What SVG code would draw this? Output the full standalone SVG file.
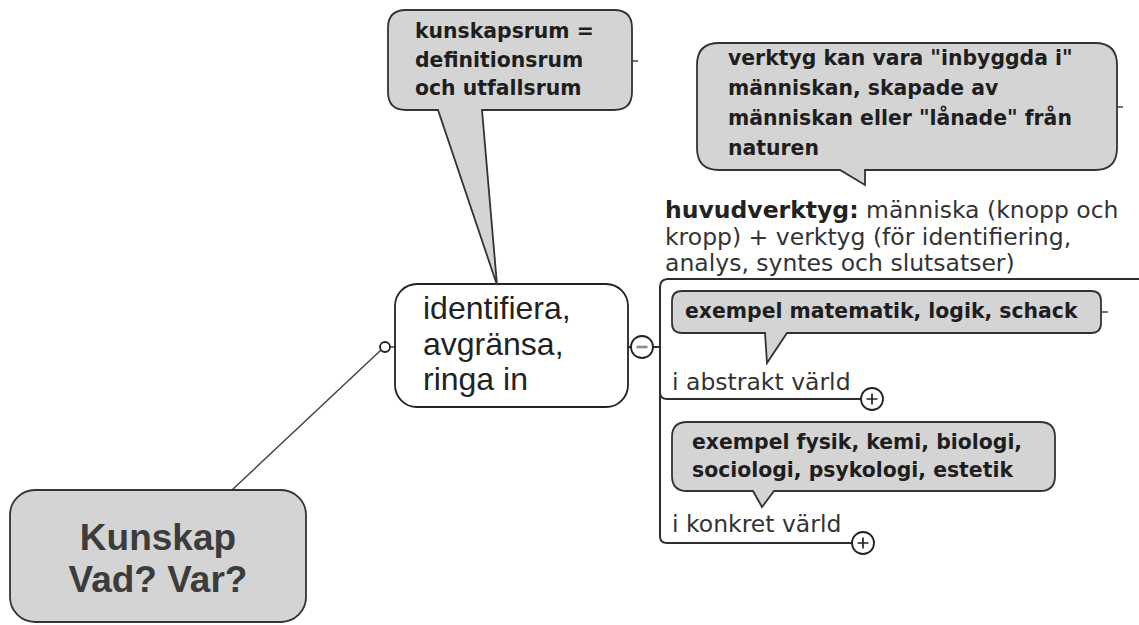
<svg xmlns="http://www.w3.org/2000/svg" width="1139" height="625" viewBox="0 0 1139 625">
  <style>
    .box { fill: #d4d4d4; stroke: #333333; stroke-width: 1.8; }
    .plain { fill: #ffffff; stroke: #222222; stroke-width: 1.8; }
    .wire { fill: none; stroke: #2e2e2e; stroke-width: 2; }
    .thin { fill: none; stroke: #444444; stroke-width: 1.5; }
    .knob { fill: #ffffff; stroke: #222222; stroke-width: 1.8; }
    .note { font-family: "DejaVu Sans", "Noto Sans", sans-serif; font-weight: bold; font-size: 20.4px; fill: #1e1e1e; }
    .label { font-family: "DejaVu Sans", "Noto Sans", sans-serif; font-size: 23.5px; fill: #333333; }
    .big { font-family: "Liberation Sans", Arial, sans-serif; font-size: 32px; fill: #222222; }
    .root { font-family: "Liberation Sans", Arial, sans-serif; font-weight: bold; font-size: 37px; fill: #3c3c3c; text-anchor: middle; }
  </style>

  <!-- connectors -->
  <g id="connectors">
    <line class="thin" x1="381" y1="350" x2="232" y2="490"/>
    <line class="thin" x1="390" y1="347" x2="395" y2="347"/>
    <circle class="knob" cx="385" cy="347" r="5"/>
    <line class="wire" x1="628" y1="347" x2="632" y2="347"/>
    <line class="wire" x1="652" y1="347" x2="660" y2="347"/>
    <!-- bracket holding the child topics -->
    <path class="wire" d="M 660,287 Q 660,280 667,279 H 1139"/>
    <path class="wire" d="M 660,287 V 536 Q 660,543 667,543 H 852"/>
    <path class="wire" d="M 660,392 Q 660,399 667,399 H 861"/>
    <!-- collapse / expand knobs -->
    <circle class="knob" cx="642" cy="347" r="11"/>
    <line x1="636.5" y1="347" x2="647.5" y2="347" stroke="#8a8a8a" stroke-width="2.6"/>
    <circle class="knob" cx="872" cy="399" r="11"/>
    <path d="M 866.5,399 H 877.5 M 872,393.5 V 404.5" stroke="#222" stroke-width="1.7"/>
    <circle class="knob" cx="863" cy="543" r="11"/>
    <path d="M 857.5,543 H 868.5 M 863,537.5 V 548.5" stroke="#222" stroke-width="1.7"/>
    <!-- callout ticks -->
    <line class="thin" x1="632" y1="61" x2="638" y2="61"/>
    <line class="thin" x1="1117" y1="107" x2="1123" y2="107"/>
    <line class="thin" x1="1102" y1="312" x2="1108" y2="312"/>
  </g>

  <!-- central topic -->
  <g id="root">
    <rect class="box" x="10" y="490" width="296" height="132" rx="25"/>
    <text class="root" x="158" y="550">Kunskap</text>
    <text class="root" x="158" y="592">Vad? Var?</text>
  </g>

  <!-- main subtopic -->
  <g id="identifiera">
    <rect class="plain" x="395" y="284" width="233" height="123" rx="22"/>
    <text class="big" x="423" y="319">identifiera,</text>
    <text class="big" x="423" y="355">avgränsa,</text>
    <text class="big" x="423" y="390">ringa in</text>
  </g>

  <!-- callout above the subtopic -->
  <g id="kunskapsrum">
    <path class="box" d="M 406,10 H 614 Q 632,10 632,28 V 92 Q 632,110 614,110 H 482 L 497,285 L 438,110 H 406 Q 388,110 388,92 V 28 Q 388,10 406,10 Z"/>
    <text class="note" x="415" y="38">kunskapsrum =</text>
    <text class="note" x="415" y="67">definitionsrum</text>
    <text class="note" x="415" y="95">och utfallsrum</text>
  </g>

  <!-- tools callout -->
  <g id="verktyg">
    <path class="box" d="M 719,43 H 1095 Q 1117,43 1117,65 V 148 Q 1117,170 1095,170 H 865 V 185 L 840,170 H 719 Q 697,170 697,148 V 65 Q 697,43 719,43 Z"/>
    <text class="note" x="728" y="65">verktyg kan vara "inbyggda i"</text>
    <text class="note" x="728" y="95">människan, skapade av</text>
    <text class="note" x="728" y="125">människan eller "lånade" från</text>
    <text class="note" x="728" y="155">naturen</text>
  </g>

  <!-- main tools topic -->
  <g id="huvudverktyg">
    <text class="label" x="665" y="218"><tspan font-weight="bold" fill="#222">huvudverktyg:</tspan> människa (knopp och</text>
    <text class="label" x="665" y="245">kropp) + verktyg (för identifiering,</text>
    <text class="label" x="665" y="271">analys, syntes och slutsatser)</text>
  </g>

  <!-- abstract world -->
  <g id="exempel-abstrakt">
    <path class="box" d="M 682,291 H 1091 Q 1101,291 1101,301 V 323 Q 1101,333 1091,333 H 787 L 767,363 L 765,333 H 682 Q 672,333 672,323 V 301 Q 672,291 682,291 Z"/>
    <text class="note" x="685" y="318">exempel matematik, logik, schack</text>
  </g>
  <g id="abstrakt">
    <text class="label" x="672" y="390">i abstrakt värld</text>
  </g>

  <!-- concrete world -->
  <g id="exempel-konkret">
    <path class="box" d="M 687,422 H 1040 Q 1055,422 1055,437 V 476 Q 1055,491 1040,491 H 774 L 762,507 L 753,491 H 687 Q 672,491 672,476 V 437 Q 672,422 687,422 Z"/>
    <text class="note" x="692" y="449">exempel fysik, kemi, biologi,</text>
    <text class="note" x="692" y="477">sociologi, psykologi, estetik</text>
  </g>
  <g id="konkret">
    <text class="label" x="672" y="532">i konkret värld</text>
  </g>
</svg>
